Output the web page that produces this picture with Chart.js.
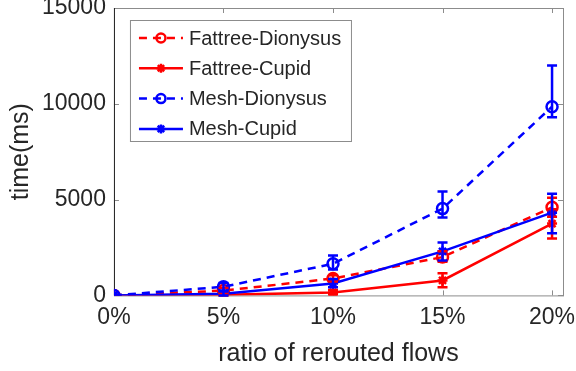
<!DOCTYPE html>
<html>
<head>
<meta charset="utf-8">
<script src="https://cdn.jsdelivr.net/npm/chart.js@4/dist/chart.umd.min.js"></script>
<style>
  html, body { margin: 0; padding: 0; background: #fff; }
  #wrap { width: 576px; height: 371px; }
</style>
</head>
<body>
<div id="wrap"><canvas id="chart"></canvas></div>
<script>
// ratio of rerouted flows (%)
const ratios = [0, 5, 10, 15, 20];
const xTicks = [0, 5, 10, 15, 20];
const yTicks = [0, 5000, 10000, 15000];

// time (ms)
const fattreeDionysus = [0, 250, 880, 2000, 4600];
const fattreeCupid = [0, 30, 150, 780, 3750];
const meshDionysus = [0, 450, 1650, 4530, 9850];
const meshCupid = [0, 80, 620, 2300, 4320];

// error bar bounds
const fattreeDionysusLow = [0, 150, 720, 1750, 4100];
const fattreeDionysusHigh = [0, 380, 1050, 2300, 5100];
const fattreeCupidLow = [0, 0, 60, 420, 2970];
const fattreeCupidHigh = [0, 100, 280, 1150, 4500];
const meshDionysusLow = [0, 250, 1350, 4060, 9300];
const meshDionysusHigh = [0, 650, 2080, 5420, 12000];
const meshCupidLow = [0, 0, 420, 1820, 3250];
const meshCupidHigh = [0, 200, 850, 2760, 5300];

const RED = "#ff0000";
const BLUE = "#0000ff";
const FONT = "'Liberation Sans', Arial, sans-serif";

const toPoints = (ys) => ratios.map((x, i) => ({ x: x, y: ys[i] }));

const makeSet = (label, ys, lo, hi, color, dashed, order) => ({
  label: label,
  data: toPoints(ys),
  errLow: lo,
  errHigh: hi,
  borderColor: color,
  backgroundColor: color,
  borderWidth: 2.5,
  borderDash: dashed ? [8, 6] : [],
  // Dionysus: open circle, Cupid: star
  pointStyle: dashed ? "circle" : "star",
  pointRadius: dashed ? 5.5 : 5,
  pointBorderWidth: 2.5,
  pointBackgroundColor: dashed ? "rgba(0,0,0,0)" : color,
  pointBorderColor: color,
  fill: false,
  tension: 0,
  order: order,
});

const datasets = [
  makeSet("Fattree-Dionysus", fattreeDionysus, fattreeDionysusLow, fattreeDionysusHigh, RED, true, 3),
  makeSet("Fattree-Cupid", fattreeCupid, fattreeCupidLow, fattreeCupidHigh, RED, false, 2),
  makeSet("Mesh-Dionysus", meshDionysus, meshDionysusLow, meshDionysusHigh, BLUE, true, 1),
  makeSet("Mesh-Cupid", meshCupid, meshCupidLow, meshCupidHigh, BLUE, false, 0),
];

// vertical error bars with caps, drawn through the scales
const errorBars = {
  id: "errorBars",
  afterDatasetsDraw(chart) {
    const ctx = chart.ctx;
    const xs = chart.scales.x;
    const ys = chart.scales.y;
    ctx.save();
    chart.data.datasets.forEach((ds) => {
      ctx.strokeStyle = ds.borderColor;
      ctx.lineWidth = 2.5;
      ctx.setLineDash([]);
      ratios.forEach((r, i) => {
        const lo = ds.errLow[i];
        const hi = ds.errHigh[i];
        if (hi - lo <= 0) return;
        const px = xs.getPixelForValue(r);
        const pLo = ys.getPixelForValue(lo);
        const pHi = ys.getPixelForValue(hi);
        ctx.beginPath();
        ctx.moveTo(px, pLo);
        ctx.lineTo(px, pHi);
        ctx.moveTo(px - 5, pLo);
        ctx.lineTo(px + 5, pLo);
        ctx.moveTo(px - 5, pHi);
        ctx.lineTo(px + 5, pHi);
        ctx.stroke();
      });
    });
    ctx.restore();
  },
};

// MATLAB-style box with inward ticks
const boxFrame = {
  id: "boxFrame",
  beforeDatasetsDraw(chart) {
    const { ctx, chartArea: a } = chart;
    const xs = chart.scales.x;
    const ys = chart.scales.y;
    ctx.save();
    ctx.strokeStyle = "#8c8c8c";
    ctx.lineWidth = 1;
    ctx.strokeRect(a.left + 0.5, a.top + 0.5, a.width, a.height);
    ctx.beginPath();
    xTicks.forEach((v) => {
      const px = Math.round(xs.getPixelForValue(v)) + 0.5;
      ctx.moveTo(px, a.bottom);
      ctx.lineTo(px, a.bottom - 5);
      ctx.moveTo(px, a.top);
      ctx.lineTo(px, a.top + 5);
    });
    yTicks.forEach((v) => {
      const py = Math.round(ys.getPixelForValue(v)) + 0.5;
      ctx.moveTo(a.left, py);
      ctx.lineTo(a.left + 5, py);
      ctx.moveTo(a.right, py);
      ctx.lineTo(a.right - 5, py);
    });
    ctx.stroke();
    ctx.strokeStyle = "#262626";
    ctx.beginPath();
    ctx.moveTo(a.left + 0.5, a.top);
    ctx.lineTo(a.left + 0.5, a.bottom);
    ctx.stroke();
    ctx.restore();
  },
};

// legend box in the upper-left of the plot
const insideLegend = {
  id: "insideLegend",
  afterDraw(chart) {
    const { ctx, chartArea: a } = chart;
    const left = a.left + 16;
    const top = a.top + 12;
    const w = 221;
    const h = 121;
    ctx.save();
    ctx.fillStyle = "#fff";
    ctx.fillRect(left, top, w, h);
    ctx.strokeStyle = "#8c8c8c";
    ctx.lineWidth = 1;
    ctx.strokeRect(left + 0.5, top + 0.5, w, h);
    ctx.font = "20px " + FONT;
    ctx.textBaseline = "middle";
    chart.data.datasets.forEach((ds, i) => {
      const y = top + 18 + i * 30.3;
      ctx.strokeStyle = ds.borderColor;
      ctx.lineWidth = 2.5;
      ctx.setLineDash(ds.borderDash);
      ctx.beginPath();
      ctx.moveTo(left + 9, y);
      ctx.lineTo(left + 53, y);
      ctx.stroke();
      ctx.setLineDash([]);
      ctx.fillStyle = ds.pointBackgroundColor;
      Chart.helpers.drawPoint(ctx, {
        pointStyle: ds.pointStyle,
        radius: 4.5,
        borderWidth: 2.5,
      }, left + 31, y);
      ctx.fillStyle = "#262626";
      ctx.fillText(ds.label, left + 59, y + 1);
    });
    ctx.restore();
  },
};

// let tick labels overflow the plot edges, like MATLAB does
const noEdgePadding = (scale) => {
  scale.paddingTop = 0;
  scale.paddingBottom = 0;
  scale.paddingLeft = 0;
  scale.paddingRight = 0;
};

new Chart(document.getElementById("chart"), {
  type: "line",
  data: { datasets: datasets },
  plugins: [boxFrame, errorBars, insideLegend],
  options: {
    responsive: true,
    maintainAspectRatio: false,
    animation: false,
    layout: { padding: { top: 7, right: 13, left: 9, bottom: 4 } },
    plugins: {
      legend: { display: false },
      tooltip: { enabled: false },
    },
    scales: {
      x: {
        type: "linear",
        min: 0,
        max: 20.5,
        afterBuildTicks: (scale) => {
          scale.ticks = xTicks.map((v) => ({ value: v }));
        },
        afterFit: noEdgePadding,
        grid: { display: false, drawTicks: false },
        border: { display: false },
        ticks: {
          color: "#262626",
          font: { family: FONT, size: 23 },
          padding: 8,
          maxRotation: 0,
          callback: (v) => v + "%",
        },
        title: {
          display: true,
          text: "ratio of rerouted flows",
          color: "#262626",
          font: { family: FONT, size: 25, lineHeight: 1 },
          padding: { top: 3, bottom: 0 },
        },
      },
      y: {
        min: 0,
        max: 15000,
        afterBuildTicks: (scale) => {
          scale.ticks = yTicks.map((v) => ({ value: v }));
        },
        afterFit: noEdgePadding,
        grid: { display: false, drawTicks: false },
        border: { display: false },
        ticks: {
          color: "#262626",
          font: { family: FONT, size: 23 },
          padding: 8,
          callback: (v) => String(v),
        },
        title: {
          display: true,
          text: "time(ms)",
          color: "#262626",
          font: { family: FONT, size: 25, lineHeight: 1 },
          padding: { top: 0, bottom: 0 },
        },
      },
    },
  },
});
</script>
</body>
</html>
